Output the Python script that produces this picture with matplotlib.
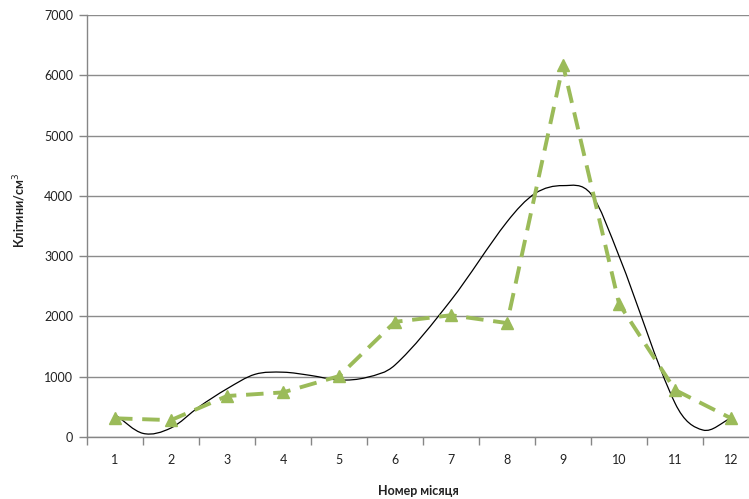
import matplotlib
matplotlib.use("Agg")
import matplotlib.pyplot as plt
from matplotlib.path import Path
from matplotlib.patches import PathPatch
import numpy as np

months = list(range(1, 13))
cells = [310, 280, 680, 740, 1010, 1910, 2020, 1890, 6170, 2210, 780, 310]

# smooth black curve
curve_x = [1, 1.5, 2, 2.5, 3, 3.5, 4, 4.5, 5, 5.5, 6, 7, 8, 8.5, 9, 9.5, 10, 11, 11.5, 12]
curve_y = [370, 60, 150, 500, 800, 1040, 1075, 1020, 945, 990, 1195, 2270, 3570, 4040, 4170, 4030, 3000, 560, 115, 315]

plt.rcParams['font.family'] = ['Lato', 'DejaVu Sans']

fig = plt.figure(figsize=(7.49, 4.99), dpi=100)
ax = fig.add_axes([87/749, 62/499, 1 - 87/749, (437-15)/499])

ax.set_yticks(range(0, 7001, 1000))
ax.set_xticks(months)
ax.set_xticks(np.arange(0.5, 12.6, 1), minor=True)
ax.set_xlim(0.5, 12.32)
ax.set_ylim(0, 7000)
ax.tick_params(axis='x', which='major', length=0, pad=12, labelsize=9, colors='#222222')
ax.tick_params(axis='x', which='minor', length=6, width=1, color='#868686', direction='out')
ax.tick_params(axis='y', length=6, width=1, color='#868686', labelsize=9, colors='#222222', pad=4)
ax.yaxis.grid(True, color='#8c8c8c', linewidth=1)
ax.set_axisbelow(True)
for s in ['top', 'right']:
    ax.spines[s].set_visible(False)
for s in ['left', 'bottom']:
    ax.spines[s].set_color('#868686')
    ax.spines[s].set_linewidth(1)

# cubic Hermite (Bezier) smoothing through the read points
xs = np.array(curve_x, float)
ys = np.array(curve_y, float)
n = len(xs)
m = np.empty(n)
m[0] = (ys[1] - ys[0]) / (xs[1] - xs[0])
m[-1] = (ys[-1] - ys[-2]) / (xs[-1] - xs[-2])
m[1:-1] = (ys[2:] - ys[:-2]) / (xs[2:] - xs[:-2])
verts = [(xs[0], ys[0])]
codes = [Path.MOVETO]
for i in range(n - 1):
    h = xs[i+1] - xs[i]
    verts += [(xs[i] + h/3, ys[i] + m[i]*h/3),
              (xs[i+1] - h/3, ys[i+1] - m[i+1]*h/3),
              (xs[i+1], ys[i+1])]
    codes += [Path.CURVE4] * 3
ax.add_patch(PathPatch(Path(verts, codes), facecolor='none', edgecolor='black', linewidth=0.9, zorder=3))

ax.plot(months, cells, color='#9BBB59', linewidth=2.8, dashes=(4.5, 2.5),
        marker='^', markersize=9, markerfacecolor='#9BBB59', markeredgecolor='#9BBB59', zorder=4)

fig.text((87+749)/2/749, 1 - 491/499, 'Номер місяця', ha='center', va='center',
         fontsize=9, fontweight='bold', color='#222222')
fig.text(20/749, 1 - 210/499, 'Клітини/см$^3$', ha='center', va='center', rotation=90,
         fontsize=9, fontweight='bold', color='#222222')

fig.savefig('out.png', dpi=100)
